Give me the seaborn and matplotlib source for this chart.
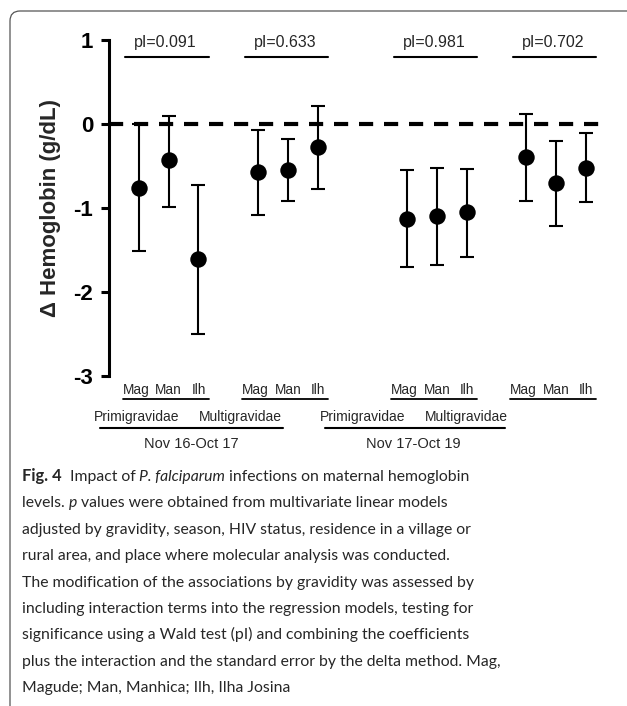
import numpy as np
import pandas as pd
import matplotlib
matplotlib.use("Agg")
import matplotlib.pyplot as plt
from matplotlib.patches import FancyBboxPatch
import seaborn as sns

# Data
periods = ["Nov 16-Oct 17", "Nov 17-Oct 19"]
gravidity = ["Primigravidae", "Multigravidae"]
sites = ["Mag", "Man", "Ilh"]
p_interaction = ["0.091", "0.633", "0.981", "0.702"]

estimate = [-0.76, -0.43, -1.61, -0.57, -0.55, -0.27,
            -1.13, -1.10, -1.05, -0.39, -0.70, -0.52]
ci_lower = [-1.51, -0.99, -2.50, -1.08, -0.92, -0.77,
            -1.70, -1.68, -1.58, -0.92, -1.21, -0.93]
ci_upper = [0.00, 0.10, -0.73, -0.07, -0.18, 0.21,
            -0.55, -0.52, -0.54, 0.12, -0.20, -0.11]

y_ticks = [1, 0, -1, -2, -3]

# positions: 1 empty slot between gravidity groups, 2 between periods
rows = []
pos = 0
k = 0
for pi, per in enumerate(periods):
    for gi, grav in enumerate(gravidity):
        for site in sites:
            rows.append(dict(period=per, gravidity=grav, site=site, x=pos,
                             est=estimate[k], lo=ci_lower[k], hi=ci_upper[k]))
            pos += 1
            k += 1
        pos += 1
    pos += 1
df = pd.DataFrame(rows)

sns.set_style("white")
plt.rcParams["font.family"] = ["Liberation Sans", "DejaVu Sans"]

W, H = 627, 706
fig = plt.figure(figsize=(W / 100, H / 100), dpi=100)
ax = fig.add_axes([0.174, 0.4674, 0.786, 0.4759])

ax.axhline(0, color="black", lw=3, ls=(0, (3.4, 2.6)), zorder=1)
ax.errorbar(df["x"], df["est"],
            yerr=[df["est"] - df["lo"], df["hi"] - df["est"]],
            fmt="none", ecolor="black", elinewidth=1.5, capsize=5,
            capthick=1.5, zorder=2)
sns.scatterplot(data=df, x="x", y="est", ax=ax, color="black", s=140,
                edgecolor="black", linewidth=0, zorder=3, legend=False)

ax.set_xlim(-1, 15.54)
ax.set_ylim(-3, 1)
ax.set_yticks(y_ticks)
ax.set_yticklabels([str(t) for t in y_ticks], fontsize=16, fontweight="bold")
ax.set_xticks([])
ax.set_xlabel("")
ax.set_ylabel("\u0394 Hemoglobin (g/dL)", fontsize=16, fontweight="bold",
              labelpad=9)
for s in ["top", "right", "bottom"]:
    ax.spines[s].set_visible(False)
ax.spines["left"].set_linewidth(2.2)
ax.spines["left"].set_color("black")
ax.tick_params(axis="y", direction="out", length=6, width=2.2, pad=5.5,
               left=True, colors="black")

# interaction p-values above each gravidity group
group_centres = df.groupby(["period", "gravidity"], sort=False)["x"].mean().values
for c, p in zip(group_centres, p_interaction):
    ax.text(c - 0.1, 0.976, f"pI={p}", ha="center", va="center", fontsize=11.5,
            clip_on=False)
    ax.plot([c - 1.45, c + 1.35], [0.80, 0.80], color="black", lw=1.5,
            clip_on=False)

# site labels under each group
for _, r in df.iterrows():
    off = -0.1 if r["site"] == "Mag" else 0
    ax.text(r["x"] + off, -3.17, r["site"], ha="center", va="center",
            fontsize=9.8, clip_on=False)
for c in group_centres:
    ax.plot([c - 1.55, c + 1.35], [-3.27, -3.27], color="black", lw=1.3,
            clip_on=False)

# gravidity and period labels (placed in figure pixels, as in the original)
grav_x = [[137, 240], [363, 466]]
bar_x = [[100, 283], [325, 505]]
period_x = [191, 413]
for i, per in enumerate(periods):
    for j, g in enumerate(gravidity):
        fig.text(grav_x[i][j] / W, 1 - 417 / H, g, ha="center", va="center",
                 fontsize=10)
    fig.add_artist(plt.Line2D([bar_x[i][0] / W, bar_x[i][1] / W],
                              [1 - 428 / H, 1 - 428 / H], color="black",
                              lw=1.5, transform=fig.transFigure))
    fig.text(period_x[i] / W, 1 - 444 / H, per, ha="center", va="center",
             fontsize=10.5)

# frame around the figure panel
frame = FancyBboxPatch((0.10, -0.5), 7.0, 7.06 - 0.11 + 0.5,
                       boxstyle="round,pad=0,rounding_size=0.1",
                       transform=fig.dpi_scale_trans, fc="none",
                       ec="#555555", lw=0.9)
fig.patches.append(frame)

# caption
cap_font = "Lato"
cap_size = 11.35
renderer = fig.canvas.get_renderer()

def runs(pieces, x0, y0):
    x = x0
    for txt, style in pieces:
        kw = dict(fontsize=cap_size, family=cap_font, va="baseline", ha="left",
                  transform=fig.transFigure)
        if style == "b":
            kw["fontweight"] = "bold"
            kw["fontsize"] = cap_size * 1.05
        if style == "i":
            kw["fontstyle"] = "italic"
        t = fig.text(x, y0, txt, **kw)
        bb = t.get_window_extent(renderer=renderer)
        x += bb.width / fig.bbox.width

caption = [
    [("Fig. 4", "b"), ("  Impact of ", ""), ("P. falciparum", "i"),
     (" infections on maternal hemoglobin", "")],
    [("levels. ", ""), ("p", "i"), (" values were obtained from multivariate linear models", "")],
    [("adjusted by gravidity, season, HIV status, residence in a village or", "")],
    [("rural area, and place where molecular analysis was conducted.", "")],
    [("The modification of the associations by gravidity was assessed by", "")],
    [("including interaction terms into the regression models, testing for", "")],
    [("significance using a Wald test (pI) and combining the coefficients", "")],
    [("plus the interaction and the standard error by the delta method. Mag,", "")],
    [("Magude; Man, Manhica; Ilh, Ilha Josina", "")],
]
y_px = 481
for line in caption:
    runs(line, 22 / W, 1 - y_px / H)
    y_px += 26.4

fig.savefig("out.png", dpi=100)
